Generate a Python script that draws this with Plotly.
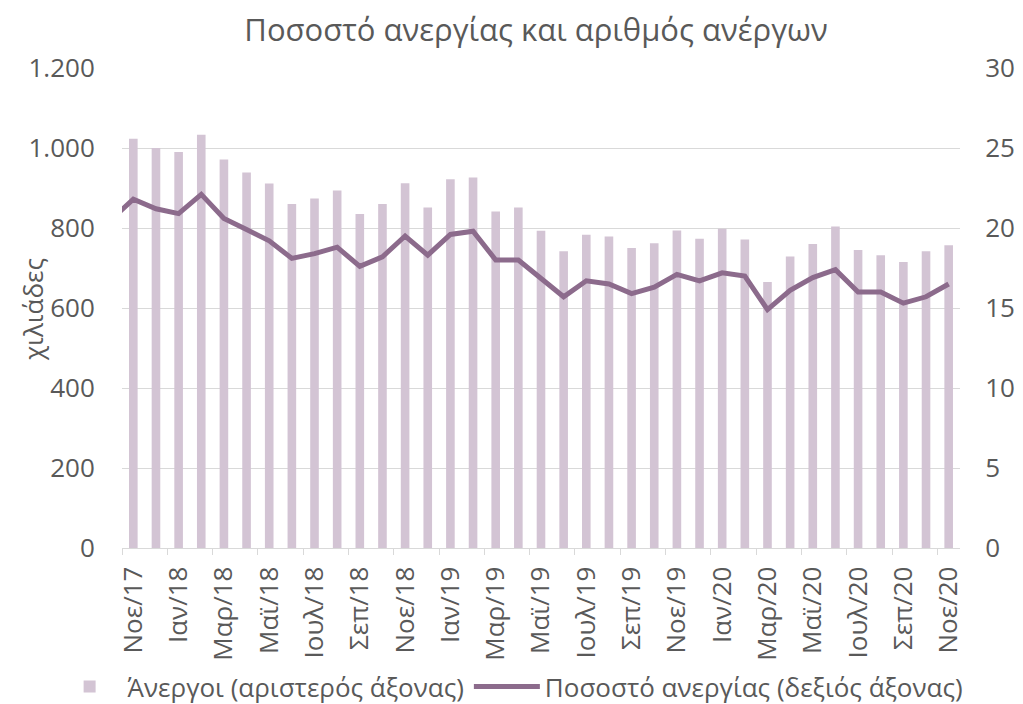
import plotly.graph_objects as go

months = ["Νοε/17", "Δεκ/17", "Ιαν/18", "Φεβ/18", "Μαρ/18", "Απρ/18", "Μαϊ/18", "Ιουν/18",
          "Ιουλ/18", "Αυγ/18", "Σεπ/18", "Οκτ/18", "Νοε/18", "Δεκ/18", "Ιαν/19", "Φεβ/19",
          "Μαρ/19", "Απρ/19", "Μαϊ/19", "Ιουν/19", "Ιουλ/19", "Αυγ/19", "Σεπ/19", "Οκτ/19",
          "Νοε/19", "Δεκ/19", "Ιαν/20", "Φεβ/20", "Μαρ/20", "Απρ/20", "Μαϊ/20", "Ιουν/20",
          "Ιουλ/20", "Αυγ/20", "Σεπ/20", "Οκτ/20", "Νοε/20"]

unemployed = [1023, 1000, 990, 1033, 971, 939, 911, 860, 874, 894, 835, 860, 912, 851,
              922, 926, 841, 851, 793, 742, 783, 779, 750, 762, 794, 773, 798, 771,
              665, 729, 760, 804, 745, 732, 715, 742, 757]

# rate series starts one month earlier (Οκτ/17), which falls at the left edge of the plot
rate_prev = 20.5
rate = [21.8, 21.2, 20.9, 22.1, 20.6, 19.9, 19.2, 18.1, 18.4, 18.8, 17.6, 18.2, 19.5,
        18.3, 19.6, 19.8, 18.0, 18.0, 16.8, 15.7, 16.7, 16.5, 15.9, 16.3, 17.1, 16.7,
        17.2, 17.0, 14.9, 16.1, 16.9, 17.4, 16.0, 16.0, 15.3, 15.7, 16.5]

tick_labels = months[::2]

bar_color = "#d3c4d4"
line_color = "#8c6b8c"
text_color = "#595959"
grid_color = "#d9d9d9"
font_family = "Open Sans"

x_bar = list(range(len(months)))
x_line = [-1] + x_bar
y_line = [rate_prev] + rate

fig = go.Figure()
fig.add_trace(go.Bar(
    x=x_bar, y=unemployed, name="Άνεργοι (αριστερός άξονας)",
    marker=dict(color=bar_color, line=dict(width=0)), width=0.38,
))
fig.add_trace(go.Scatter(
    x=x_line, y=y_line, name="Ποσοστό ανεργίας (δεξιός άξονας)", yaxis="y2",
    mode="lines", line=dict(color=line_color, width=5),
))

fig.update_layout(
    width=1023, height=704,
    margin=dict(l=122, r=63, t=68, b=156, autoexpand=False),
    paper_bgcolor="white", plot_bgcolor="white",
    separators=",.",
    font=dict(family=font_family, color=text_color, size=26),
    title=dict(text="Ποσοστό ανεργίας και αριθμός ανέργων", xref="container", x=0.524,
               xanchor="center", y=0.957, yanchor="middle",
               font=dict(size=31, color=text_color)),
    showlegend=True,
    legend=dict(orientation="h", x=-0.084, xanchor="left", y=-0.289, yanchor="middle",
                font=dict(size=26, color=text_color), traceorder="normal",
                itemwidth=66, tracegroupgap=0),
    xaxis=dict(
        range=[-0.5, len(months) - 0.5], tickmode="array", automargin=False,
        tickvals=x_bar[::2], ticktext=tick_labels, tickangle=-90,
        ticks="outside", ticklen=7, tickcolor="rgba(0,0,0,0)",
        showgrid=False, zeroline=False,
        showline=True, linecolor=grid_color, linewidth=1.3,
        tickfont=dict(size=26, color=text_color),
        minor=dict(tickmode="linear", tick0=-0.5, dtick=2, ticks="outside",
                   ticklen=6, tickcolor=grid_color, tickwidth=1.3, showgrid=False),
    ),
    yaxis=dict(
        range=[0, 1200], dtick=200, tickformat=",d", automargin=False,
        showgrid=True, gridcolor=grid_color, gridwidth=1.3, zeroline=False,
        ticks="outside", ticklen=21, tickcolor="rgba(0,0,0,0)",
        tickfont=dict(size=26, color=text_color),
    ),
    yaxis2=dict(
        range=[0, 30], dtick=5, overlaying="y", side="right", automargin=False,
        showgrid=False, zeroline=False,
        ticks="outside", ticklen=19, tickcolor="rgba(0,0,0,0)",
        tickfont=dict(size=26, color=text_color),
    ),
    annotations=[dict(
        text="χιλιάδες", xref="paper", yref="paper", x=-0.106, y=0.496,
        xanchor="center", yanchor="middle", textangle=-90, showarrow=False,
        font=dict(size=26, color=text_color),
    )],
)

fig.write_html("out.html", config={"displayModeBar": False},
               post_script="document.body.style.margin='0';document.body.style.overflow='hidden';")
